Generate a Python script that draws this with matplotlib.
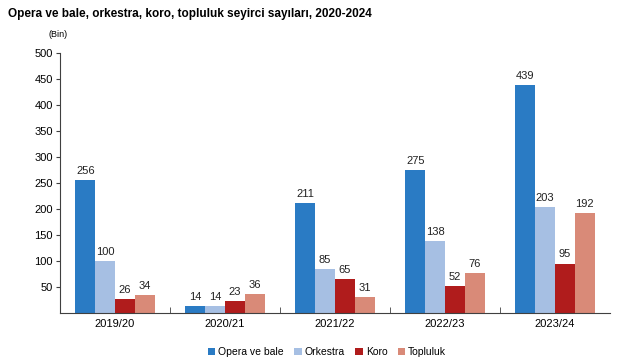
import matplotlib
matplotlib.use("Agg")
import matplotlib.pyplot as plt
import numpy as np

plt.rcParams['font.family'] = ['Liberation Sans', 'DejaVu Sans']

categories = ["2019/20", "2020/21", "2021/22", "2022/23", "2023/24"]
series_names = ["Opera ve bale", "Orkestra", "Koro", "Topluluk"]
opera = [256, 14, 211, 275, 439]
orkestra = [100, 14, 85, 138, 203]
koro = [26, 23, 65, 52, 95]
topluluk = [34, 36, 31, 76, 192]
colors = ["#2a7bc4", "#a6bfe3", "#b01c1c", "#d98a78"]
yticks = [50, 100, 150, 200, 250, 300, 350, 400, 450, 500]

fig = plt.figure(figsize=(6.35, 3.61), dpi=100)
ax = fig.add_axes([0.0945, 0.133, 0.866, 0.72])

x = np.arange(len(categories))
w = 0.18
all_series = [opera, orkestra, koro, topluluk]
for i, (vals, name, c) in enumerate(zip(all_series, series_names, colors)):
    pos = x + (i - 1.5) * w
    ax.bar(pos, vals, width=w, color=c, label=name, edgecolor='none')
    for p, v in zip(pos, vals):
        ax.text(p, v + 8, str(v), ha='center', va='bottom', fontsize=8, color='#222222')

ax.set_xlim(-0.5, len(categories) - 0.5)
ax.set_ylim(0, 500)
ax.set_yticks(yticks)
ax.set_yticklabels([str(t) for t in yticks], fontsize=8)
ax.set_xticks(x)
ax.set_xticklabels(categories, fontsize=8)
ax.tick_params(axis='x', length=0, pad=4)
ax.set_xticks(np.arange(0.5, len(categories) - 0.5, 1), minor=True)
ax.tick_params(axis='x', which='minor', length=4, direction='in', color='#404040')
ax.tick_params(axis='y', length=3, direction='out', color='#404040', pad=2)
for s in ['top', 'right']:
    ax.spines[s].set_visible(False)
ax.spines['left'].set_color('#404040')
ax.spines['bottom'].set_color('#404040')
ax.spines['left'].set_linewidth(0.8)
ax.spines['bottom'].set_linewidth(0.8)

fig.text(0.013, 0.96, "Opera ve bale, orkestra, koro, topluluk seyirci sayıları, 2020-2024",
         fontsize=8.5, fontweight='bold', ha='left', va='center')
fig.text(0.077, 0.905, "(Bin)", fontsize=6.5, ha='left', va='center')

fig.legend(loc='center', bbox_to_anchor=(0.515, 0.025), ncol=4, frameon=False,
           fontsize=7.5, handlelength=0.7, handleheight=0.7, handletextpad=0.3,
           columnspacing=1.0)

fig.savefig("out.png", dpi=100)
